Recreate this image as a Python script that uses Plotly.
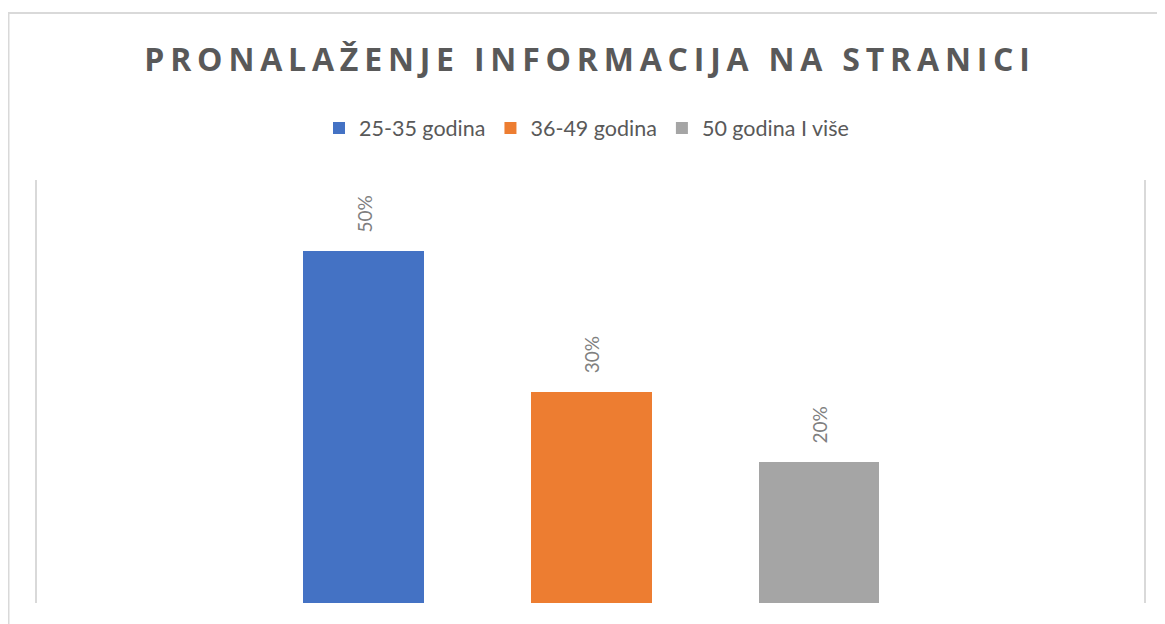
import plotly.graph_objects as go

series = ["25-35 godina", "36-49 godina", "50 godina I više"]
values = [0.50, 0.30, 0.20]
labels = ["50%", "30%", "20%"]
colors = ["#4472C4", "#ED7D31", "#A5A5A5"]
title = "PRONALAŽENJE INFORMACIJA NA STRANICI"

# page body has an 8px margin, so figure coordinates = screen - 8
W, H = 1157, 616
L, R, T, B = 29, 21, 172, 21
pw, ph = W - L - R, H - T - B

fig = go.Figure()
for i, (s, v, c) in enumerate(zip(series, values, colors)):
    fig.add_trace(go.Bar(x=[i], y=[v], name=s, marker=dict(color=c, line=dict(width=0)),
                         width=0.531, hoverinfo="skip"))
    fig.add_annotation(x=i, y=v, text=labels[i], textangle=-90, showarrow=False,
                       yanchor="bottom", yshift=16,
                       font=dict(family="Lato, Open Sans, sans-serif", size=19, color="#808080"))

def px_x(p):
    return (p - L) / pw

def px_y(p):
    return (H - B - p) / ph

fig.add_shape(type="rect", xref="paper", yref="paper",
              x0=px_x(0.5), x1=px_x(1175), y0=px_y(5), y1=px_y(640),
              line=dict(color="#D9D9D9", width=2), fillcolor="rgba(0,0,0,0)", layer="below")

fig.update_layout(
    width=W, height=H,
    margin=dict(l=L, r=R, t=T, b=B),
    paper_bgcolor="white", plot_bgcolor="white",
    title=dict(text=title, x=582 / W, xref="container", xanchor="center",
               y=1 - 51.5 / H, yref="container", yanchor="middle",
               font=dict(family="Open Sans, sans-serif", size=32, color="#595959", weight=700)),
    legend=dict(orientation="h", x=0.5, xref="container", xanchor="center",
                y=1 - 120 / H, yref="container", yanchor="middle",
                font=dict(family="Lato, Open Sans, sans-serif", size=21.5, color="#595959"),
                itemwidth=30, traceorder="normal", itemclick=False),
    bargap=0,
    showlegend=True,
)
fig.update_xaxes(range=[-1.434, 3.427], showticklabels=False, showgrid=False, zeroline=False,
                 showline=False, fixedrange=True)
fig.update_yaxes(range=[0, 0.6], showticklabels=False, showgrid=False, zeroline=False,
                 showline=True, mirror=True, linecolor="#D9D9D9", linewidth=2, ticks="",
                 fixedrange=True)

post = """
var st = document.createElement('style');
st.innerHTML = '.gtitle { letter-spacing: 5.8px; }';
document.head.appendChild(st);
"""
fig.write_html("out.html", config={"displayModeBar": False}, post_script=post)
